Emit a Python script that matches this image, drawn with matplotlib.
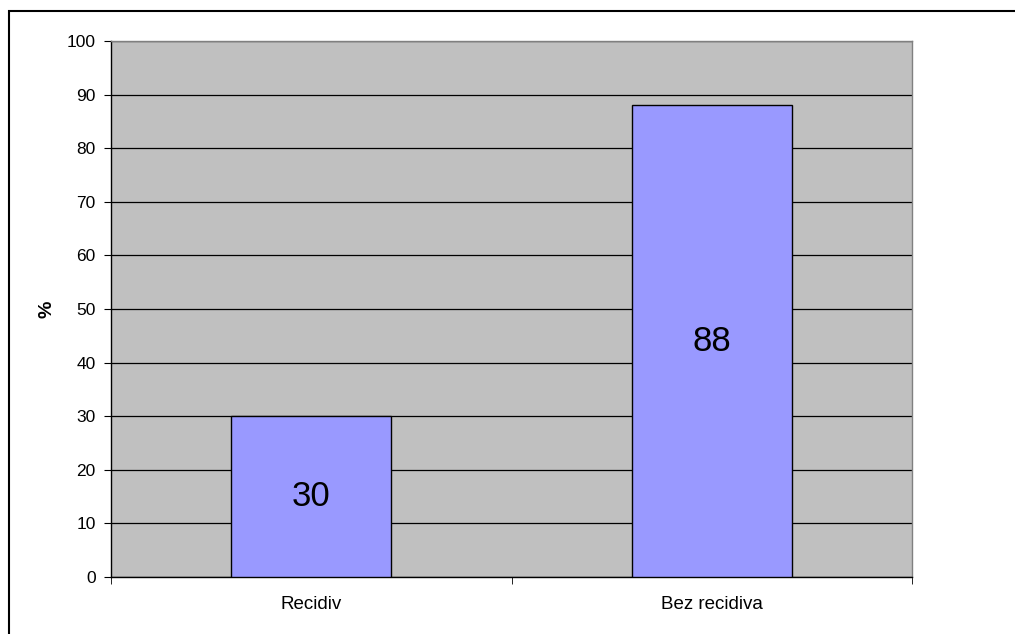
import matplotlib.pyplot as plt
from matplotlib.patches import Rectangle

categories = ["Recidiv", "Bez recidiva"]
values = [30, 88]
y_ticks = list(range(0, 101, 10))

plt.rcParams['font.family'] = ['Liberation Sans', 'DejaVu Sans']

fig = plt.figure(figsize=(10.15, 6.34), dpi=100)
ax = fig.add_axes([111 / 1015, 57 / 634, 801 / 1015, 536 / 634])

# outer chart border (only top/left visible in the original, rest is cropped)
fig.patches.append(Rectangle((9 / 1015, -0.1), 1.2, 1.1 - 11 / 634,
                             transform=fig.transFigure, fill=False,
                             edgecolor='black', linewidth=1.5))

ax.set_facecolor('#C0C0C0')
x = list(range(len(categories)))
ax.bar(x, values, width=0.4, color='#9999FF', edgecolor='black', linewidth=1, zorder=3)
for xi, v in zip(x, values):
    ax.text(xi, v / 2, str(v), ha='center', va='center', fontsize=25, zorder=4)

ax.set_xlim(-0.5, len(categories) - 0.5)
ax.set_ylim(0, 100)
ax.set_yticks(y_ticks)
ax.yaxis.grid(True, color='black', linewidth=0.9)
ax.set_axisbelow(True)

ax.set_xticks(x)
ax.set_xticklabels(categories)
ax.set_xticks([-0.5, 0.5, 1.5], minor=True)
ax.tick_params(axis='x', which='major', length=0, pad=14, labelsize=13.5)
ax.tick_params(axis='x', which='minor', length=5, direction='out', color='black')
ax.tick_params(axis='y', length=5, direction='out', labelsize=12.5, pad=6)

ax.set_ylabel('%', fontsize=14, fontweight='bold', labelpad=8)

ax.spines['top'].set_color('#808080')
ax.spines['right'].set_color('#808080')
ax.spines['left'].set_color('black')
ax.spines['bottom'].set_color('black')
for s in ax.spines.values():
    s.set_linewidth(1)

fig.savefig('out.png', dpi=100)
